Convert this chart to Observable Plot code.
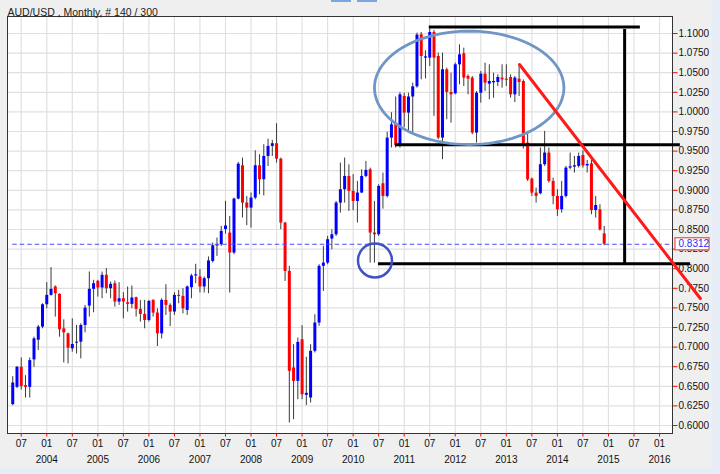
<!DOCTYPE html>
<html><head><meta charset="utf-8">
<script src="https://cdn.jsdelivr.net/npm/d3@7"></script>
<script src="https://cdn.jsdelivr.net/npm/@observablehq/plot@0.6"></script>
<style>
html,body{margin:0;padding:0;background:#e7edf6;width:720px;height:474px;overflow:hidden}
#chart{position:absolute;left:0;top:0}
.tab{position:absolute;top:0;height:2px;background:#78a6e0}
</style></head><body>
<div id="chart"></div>
<div class="tab" style="left:331px;width:20px"></div>
<div class="tab" style="left:357px;width:20px"></div>
<script>
// ---- data: AUD/USD monthly candles, 2003-05 .. 2014-12 ----
const title = "AUD/USD , Monthly, # 140 / 300";
const firstMonthIndex = -8; // 2003-05 counted in months from 2004-01
const open = [
.6266,.6487,.6743,.6508,.6487,.6837,.7088,.7255,
.7540,.7660,.7767,.7673,.7233,.7169,.6977,.7050,.7063,.7276,.7523,.7737,
.7839,.7754,.7916,.7745,.7809,.7575,.7617,.7566,.7545,.7630,.7481,.7417,
.7340,.7596,.7434,.7169,.7596,.7532,.7447,.7660,.7647,.7468,.7758,.7907,
.7895,.7767,.7873,.8093,.8290,.8306,.8500,.8455,.8200,.8888,.9313,.8837,
.8773,.8901,.9313,.9135,.9432,.9560,.9594,.9398,.8582,.7966,.6733,.6563,
.7094,.6385,.6351,.6946,.7307,.8030,.8072,.8378,.8433,.8837,.9007,.9177,
.8986,.8858,.8965,.9177,.9262,.8455,.8433,.9084,.8922,.9666,.9836,.9570,
1.0197,.9985,1.0190,1.0320,1.0983,1.0686,1.0686,1.1013,1.0707,.9666,1.0537,1.0248,
1.0231,1.0601,1.0741,1.0452,1.0431,.9730,1.0239,1.0482,1.0354,1.0371,1.0375,1.0431,
1.0418,1.0439,1.0218,1.0418,1.0388,.9602,.9143,.8964,.8956,.9326,.9475,.9113,
.8922,.8752,.8922,.9283,.9296,.9305,.9444,.9311,.9338,.8742,.8750,.8444];
const high = [
.6623,.6752,.6862,.6636,.6862,.7127,.7276,.7553,
.7822,.8014,.7780,.7680,.7348,.7178,.7361,.7276,.7297,.7532,.7958,.7852,
.7852,.7958,.8001,.7831,.7843,.7822,.7694,.7767,.7779,.7638,.7596,.7596,
.7596,.7604,.7489,.7617,.7796,.7553,.7694,.7724,.7745,.7779,.7929,.8057,
.7989,.7895,.8150,.8327,.8391,.8540,.8860,.8667,.8901,.9355,.9411,.8922,
.8965,.9504,.9453,.9581,.9653,.9636,.9849,.9411,.8591,.8030,.7031,.7116,
.7273,.6870,.7031,.7413,.8051,.8285,.8412,.8497,.8858,.9347,.9411,.9326,
.9200,.9113,.9262,.9368,.9283,.8858,.9071,.9220,.9740,.9990,1.0190,1.0248,
1.0240,1.0240,1.0367,1.1005,1.1013,1.0780,1.1060,1.1039,1.0750,1.0750,1.0558,1.0494,
1.0622,1.0856,1.0813,1.0473,1.0452,1.0261,1.0516,1.0622,1.0601,1.0494,1.0473,1.0601,
1.0601,1.0473,1.0452,1.0601,1.0409,.9751,.9156,.9028,.9539,.9751,.9539,.9156,
.9007,.9113,.9305,.9475,.9432,.9475,.9504,.9381,.9381,.8922,.8816,.8539];
const low = [
.6252,.6470,.6453,.6351,.6350,.6743,.6956,.7233,
.7489,.7650,.7383,.7127,.6798,.6786,.6935,.6913,.6850,.7182,.7383,.7438,
.7638,.7617,.7681,.7617,.7511,.7532,.7361,.7447,.7489,.7383,.7319,.7233,
.7319,.7383,.7008,.7105,.7404,.7263,.7404,.7553,.7425,.7404,.7617,.7809,
.7690,.7690,.7681,.8072,.8157,.8285,.8440,.7689,.8179,.8879,.8646,.8548,
.8518,.8879,.8943,.8928,.9304,.9432,.9347,.8497,.7838,.6032,.6074,.6329,
.6329,.6255,.6287,.6925,.7265,.7710,.8051,.8242,.8412,.8710,.8837,.8731,
.8740,.8582,.8960,.9160,.8072,.8072,.8412,.8760,.8901,.9540,.9540,.9538,
.9800,.9751,.9720,1.0303,1.0410,1.0420,1.0580,.9943,.9645,.9390,.9900,.9857,
1.0218,1.0346,1.0324,1.0218,.9709,.9602,1.0112,1.0261,1.0154,1.0175,1.0324,1.0303,
1.0324,1.0175,1.0120,1.0197,.9526,.9113,.8922,.8837,.8943,.9305,.9092,.8816,
.8667,.8710,.8901,.9262,.9220,.9283,.9283,.9220,.8688,.8646,.8480,.8293];
const close = [
.6542,.6743,.6496,.6487,.6828,.7105,.7255,.7540,
.7660,.7737,.7681,.7221,.7182,.6986,.7033,.7063,.7276,.7498,.7737,.7809,
.7754,.7916,.7745,.7801,.7575,.7617,.7575,.7545,.7626,.7481,.7417,.7340,
.7583,.7434,.7169,.7596,.7532,.7447,.7660,.7645,.7489,.7767,.7907,.7922,
.7767,.7873,.8099,.8293,.8305,.8476,.8545,.8200,.8888,.9334,.8837,.8773,
.8901,.9313,.9135,.9432,.9560,.9594,.9398,.8582,.7966,.6691,.6563,.7060,
.6393,.6410,.6946,.7307,.8030,.8072,.8370,.8433,.8837,.9007,.9177,.8986,
.8858,.8965,.9177,.9254,.8455,.8433,.9050,.8922,.9666,.9836,.9570,1.0218,
.9985,1.0190,1.0320,1.0980,1.0707,1.0702,1.1013,1.0686,.9666,1.0537,1.0248,1.0218,
1.0601,1.0728,1.0431,1.0418,.9730,1.0239,1.0482,1.0367,1.0388,1.0388,1.0439,1.0409,
1.0403,1.0218,1.0431,1.0375,.9581,.9134,.8964,.8922,.9326,.9475,.9113,.8922,
.8752,.8922,.9283,.9300,.9313,.9432,.9311,.9330,.8742,.8806,.8495,.8312];
const currentPrice = 0.8312;

// tick labels
const xTickMonths = [-6,0,6,12,18,24,30,36,42,48,54,60,66,72,78,84,90,96,102,108,114,120,126,132,138,144];
const xTickLabels = ["07","01","07","01","07","01","07","01","07","01","07","01","07","01","07","01","07","01","07","01","07","01","07","01","07","01"];
const yearMonths = [0,12,24,36,48,60,72,84,96,108,120,132,144];
const yearLabels = ["2004","2005","2006","2007","2008","2009","2010","2011","2012","2013","2014","2015","2016"];
const yTicks = [0.6,0.625,0.65,0.675,0.7,0.725,0.75,0.775,0.8,0.825,0.85,0.875,0.9,0.925,0.95,0.975,1.0,1.025,1.05,1.075,1.1];

// hand-drawn annotations (month index, price)
const hLevels = [
  {y: 1.1083, x1: 89.9, x2: 139.5},
  {y: 0.9580, x1: 81.95, x2: 148.9},
  {y: 0.8062, x1: 77.95, x2: 151.3}
];
const vLevels = [{x: 135.8, y1: 1.1051, y2: 0.8041}];
const trendLine = [{x: 111.1, y: 1.0605}, {x: 153.6, y: 0.762}];
const ellipseSpec = {cx: 99.27, cy: 1.0307, rx: 22.26, ry: 0.0723};
const circleSpot = [{x: 77.13, y: 0.8105}];

const xDomain = [-9.23, 147.05];
const yDomain = [0.5898, 1.1217];

const bars = open.map((o, i) => ({m: firstMonthIndex + i, open: o, high: high[i], low: low[i], close: close[i]}));
const ellipsePts = d3.range(0, 121).map(k => {
  const t = k / 120 * 2 * Math.PI;
  return {x: ellipseSpec.cx + ellipseSpec.rx * Math.cos(t), y: ellipseSpec.cy + ellipseSpec.ry * Math.sin(t)};
});

const chart = Plot.plot({
  width: 712, height: 468,
  marginLeft: 7, marginRight: 40, marginTop: 16, marginBottom: 35,
  x: {domain: xDomain, axis: null},
  y: {domain: yDomain, axis: null},
  style: {background: "#efefef", fontFamily: "'Liberation Sans', Arial, sans-serif", fontSize: "10px", color: "#111"},
  marks: [
    Plot.frame({fill: "white", stroke: "none"}),
    Plot.ruleY(yTicks, {y: d => d, stroke: "#e0e0e0", strokeWidth: 1.2}),
    Plot.ruleX(xTickMonths, {x: d => d, stroke: "#e0e0e0", strokeWidth: 1.2}),
    // candles
    Plot.ruleX(bars, {x: "m", y1: "low", y2: "high", stroke: "#3a3a3a", strokeWidth: 1}),
    Plot.ruleX(bars, {x: "m", y1: "open", y2: "close", stroke: d => d.close >= d.open ? "#0000ff" : "#ff0000", strokeWidth: 3}),
    // bid line
    Plot.ruleY([currentPrice], {y: d => d, x1: () => firstMonthIndex, x2: () => xDomain[1], stroke: "#4b4bff", strokeWidth: 1.2, strokeDasharray: "4.5,3"}),
    Plot.frame({stroke: "#333", fill: "none"}),
    // axis ticks (red)
    Plot.ruleX(xTickMonths, {x: d => d, y1: () => yDomain[0], y2: () => yDomain[0] - 0.0045, stroke: "#ff0000"}),
    Plot.ruleY(yTicks, {y: d => d, x1: () => xDomain[1] + 0.2, x2: () => xDomain[1] + 1.3, stroke: "#ff0000"}),
    // axis labels
    Plot.text(yTicks, {y: d => d, frameAnchor: "right", dx: 6, textAnchor: "start", text: d => d.toFixed(4), fontSize: 10, fill: "#111"}),
    Plot.text(xTickMonths, {x: d => d, frameAnchor: "bottom", dy: 13, text: (d, i) => xTickLabels[i], fontSize: 10, fill: "#111"}),
    Plot.text(yearMonths, {x: d => d, frameAnchor: "bottom", dy: 29.5, text: (d, i) => yearLabels[i], fontSize: 10, fill: "#111"}),
    Plot.text([title], {frameAnchor: "top-left", dy: -8, textAnchor: "start", text: d => d, fontSize: 10.5, fill: "#222"}),
    // current price box
    Plot.rect([currentPrice], {x1: () => xDomain[1] + 0.7, x2: () => xDomain[1] + 8.7, y1: d => d - 0.0077, y2: d => d + 0.0077, fill: "white", stroke: "#f05a5a", strokeWidth: 1.3}),
    Plot.text([currentPrice], {y: d => d, frameAnchor: "right", dx: 6, textAnchor: "start", text: d => d.toFixed(4), fontSize: 10, fill: "#2a2aff"}),
    // annotations
    Plot.ruleY(hLevels, {y: "y", x1: "x1", x2: "x2", stroke: "#000", strokeWidth: 3}),
    Plot.ruleX(vLevels, {x: "x", y1: "y1", y2: "y2", stroke: "#000", strokeWidth: 3}),
    Plot.line(ellipsePts, {x: "x", y: "y", stroke: "#7096c6", strokeWidth: 2.8, curve: "linear-closed"}),
    Plot.dot(circleSpot, {x: "x", y: "y", r: 17, stroke: "#4052c8", strokeWidth: 2.5, fill: "none"}),
    Plot.line(trendLine, {x: "x", y: "y", stroke: "#ff1a1a", strokeWidth: 3})
  ]
});
document.getElementById("chart").appendChild(chart);
</script>
</body></html>
